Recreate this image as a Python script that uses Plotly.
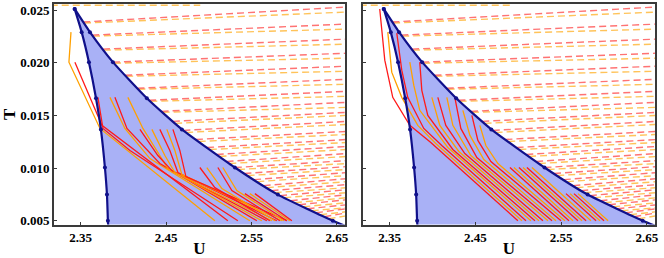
import numpy as np
import plotly.graph_objects as go

# ---------------- data ----------------
# boundary dots (shared by both panels)
T_dots = [0.0251, 0.0229, 0.02005, 0.01662, 0.01367, 0.01005, 0.00748, 0.0050]
U_left_dots = [2.3430, 2.3512, 2.3597, 2.3680, 2.3737, 2.3784, 2.3808, 2.3819]
U_upper_dots = [2.3430, 2.3609, 2.3878, 2.4275, 2.4685, 2.5305, 2.5808, 2.6451]
U_left_tail, T_left_tail = 2.3823, 0.0044
U_upper_tail, T_upper_tail = 2.6700, 0.00418

# dashed lines: start T on the upper boundary, end T at the right edge
red_dash_start_T = [0.02386, 0.02262, 0.02129, 0.02005, 0.01881, 0.01757, 0.01643, 0.01538,
                    0.01443, 0.01357, 0.01271, 0.01195, 0.01129, 0.01062, 0.01005, 0.00948,
                    0.00890, 0.00833, 0.00786, 0.00738, 0.00690, 0.00652, 0.00614, 0.00576,
                    0.00538]
red_dash_end_T = [0.02529, 0.02367, 0.02224, 0.02090, 0.01967, 0.01843, 0.01729, 0.01624,
                  0.01529, 0.01443, 0.01348, 0.01271, 0.01205, 0.01138, 0.01071, 0.01014,
                  0.00957, 0.00900, 0.00843, 0.00795, 0.00748, 0.00700, 0.00652, 0.00614,
                  0.00576]
orange_dash_start_T = [0.02376, 0.02252, 0.02119, 0.01995, 0.01871, 0.01748, 0.01633, 0.01529,
                       0.01424, 0.01338, 0.01252, 0.01176, 0.01110, 0.01043, 0.00986, 0.00929,
                       0.00871, 0.00814, 0.00767, 0.00719, 0.00671, 0.00633, 0.00595, 0.00557,
                       0.00519]
orange_dash_end_T = [0.02481, 0.02319, 0.02176, 0.02043, 0.01919, 0.01795, 0.01681, 0.01576,
                     0.01500, 0.01414, 0.01319, 0.01243, 0.01176, 0.01110, 0.01043, 0.00986,
                     0.00929, 0.00871, 0.00814, 0.00767, 0.00719, 0.00671, 0.00624, 0.00586,
                     0.00548]
U_edge = 2.6620
top_dash_U = [2.3150, 2.4900]
top_dash_T = [0.02545, 0.02545]

# solid trajectories, left panel
left_colors = ["orange", "red", "red", "orange", "red", "orange", "red", "orange", "red",
               "orange", "red", "red", "orange", "red", "orange", "red", "orange", "red"]
left_U = [
    [2.3387, 2.3363, 2.3726, 2.5071],
    [2.3433, 2.3749, 2.5223],
    [2.3702, 2.3761, 2.4077, 2.5340],
    [2.3843, 2.4018, 2.4311, 2.5480],
    [2.3901, 2.4042, 2.4427, 2.5562],
    [2.4053, 2.4229, 2.4521, 2.5620],
    [2.4194, 2.4404, 2.4568, 2.5679],
    [2.4334, 2.4486, 2.4603, 2.5737],
    [2.4427, 2.4544, 2.4638, 2.5796],
    [2.4509, 2.4603, 2.4685, 2.5855],
    [2.4580, 2.4661, 2.4732, 2.5913],
    [2.4895, 2.5071, 2.5714],
    [2.4977, 2.5153, 2.5773],
    [2.5106, 2.5270, 2.5831],
    [2.5164, 2.5328, 2.5878],
    [2.5422, 2.5913],
    [2.5480, 2.5948],
    [2.5539, 2.5972],
]
left_T = [
    [0.02290, 0.02005, 0.01376, 0.005],
    [0.02005, 0.01405, 0.005],
    [0.01671, 0.01376, 0.01167, 0.005],
    [0.01671, 0.01376, 0.01090, 0.005],
    [0.01671, 0.01376, 0.01043, 0.005],
    [0.01671, 0.01376, 0.00995, 0.005],
    [0.01367, 0.01119, 0.00976, 0.005],
    [0.01367, 0.01119, 0.00957, 0.005],
    [0.01367, 0.01167, 0.00957, 0.005],
    [0.01367, 0.01167, 0.00938, 0.005],
    [0.01367, 0.01167, 0.00919, 0.005],
    [0.01005, 0.00814, 0.005],
    [0.01005, 0.00805, 0.005],
    [0.01005, 0.00786, 0.005],
    [0.01005, 0.00786, 0.005],
    [0.00757, 0.005],
    [0.00757, 0.005],
    [0.00757, 0.005],
]

# solid trajectories, right panel
right_colors = ["red", "orange"] * 11
right_U = [
    [2.3383, 2.3442, 2.3535, 2.3734, 2.3979, 2.4995],
    [2.3477, 2.3523, 2.3640, 2.3827, 2.4037, 2.5042],
    [2.3582, 2.3640, 2.3710, 2.3897, 2.4107, 2.5089],
    [2.3734, 2.3780, 2.3850, 2.4178, 2.5147],
    [2.3850, 2.3874, 2.3944, 2.4236, 2.5194],
    [2.3991, 2.4084, 2.4306, 2.5241],
    [2.4061, 2.4154, 2.4376, 2.5287],
    [2.4166, 2.4236, 2.4446, 2.5346],
    [2.4259, 2.4329, 2.4516, 2.5393],
    [2.4353, 2.4435, 2.4598, 2.5439],
    [2.4458, 2.4528, 2.4680, 2.5498],
    [2.4551, 2.4621, 2.4762, 2.5544],
    [2.4902, 2.5591],
    [2.4949, 2.5638],
    [2.5007, 2.5696],
    [2.5054, 2.5743],
    [2.5100, 2.5790],
    [2.5159, 2.5848],
    [2.5556, 2.5907],
    [2.5603, 2.5953],
    [2.5649, 2.6000],
    [2.5696, 2.6047],
]
right_T = [
    [0.02510, 0.02024, 0.01671, 0.01405, 0.01243, 0.005],
    [0.02290, 0.01910, 0.01671, 0.01405, 0.01233, 0.005],
    [0.02281, 0.01929, 0.01671, 0.01376, 0.01214, 0.005],
    [0.02005, 0.01786, 0.01548, 0.01195, 0.005],
    [0.02005, 0.01738, 0.01500, 0.01176, 0.005],
    [0.01671, 0.01405, 0.01157, 0.005],
    [0.01671, 0.01405, 0.01138, 0.005],
    [0.01671, 0.01405, 0.01119, 0.005],
    [0.01671, 0.01376, 0.01100, 0.005],
    [0.01548, 0.01310, 0.01081, 0.005],
    [0.01500, 0.01262, 0.01062, 0.005],
    [0.01405, 0.01214, 0.01043, 0.005],
    [0.01005, 0.005], [0.01005, 0.005], [0.01005, 0.005],
    [0.01005, 0.005], [0.01005, 0.005], [0.01005, 0.005],
    [0.00757, 0.005], [0.00757, 0.005], [0.00757, 0.005], [0.00757, 0.005],
]

x_ticks = [2.35, 2.45, 2.55, 2.65]
x_tick_text = ["2.35", "2.45", "2.55", "2.65"]
y_ticks = [0.005, 0.010, 0.015, 0.020, 0.025]
y_tick_text = ["0.005", "0.010", "0.015", "0.020", "0.025"]

# ---------------- styles ----------------
NAVY = "#10108a"
FILL = "#a9b1f6"
RED_SOLID = "#ff1a1a"
ORANGE_SOLID = "#ffa000"
RED_DASH = "rgba(255,90,90,0.85)"
ORANGE_DASH = "rgba(255,185,60,0.85)"
COLOR = {"red": RED_SOLID, "orange": ORANGE_SOLID}

left_curve_U = U_left_dots + [U_left_tail]
left_curve_T = T_dots + [T_left_tail]
upper_curve_U = U_upper_dots + [U_upper_tail]
upper_curve_T = T_dots + [T_upper_tail]

fig = go.Figure()


def add_panel(xa, ya, paths_U, paths_T, colors):
    # filled region
    poly_U = left_curve_U + upper_curve_U[::-1]
    poly_T = left_curve_T + upper_curve_T[::-1]
    fig.add_trace(go.Scatter(x=poly_U, y=poly_T, mode="lines", fill="toself",
                             fillcolor=FILL, line=dict(width=0, color=FILL),
                             xaxis=xa, yaxis=ya, hoverinfo="skip"))
    # dashed lines
    Tu = np.array(upper_curve_T)[::-1]
    Uu = np.array(upper_curve_U)[::-1]
    for starts, ends, col in ((orange_dash_start_T, orange_dash_end_T, ORANGE_DASH),
                              (red_dash_start_T, red_dash_end_T, RED_DASH)):
        xs, ys = [], []
        for ts, te in zip(starts, ends):
            us = float(np.interp(ts, Tu, Uu))
            xs += [us, U_edge, None]
            ys += [ts, te, None]
        fig.add_trace(go.Scatter(x=xs, y=ys, mode="lines",
                                 line=dict(color=col, width=1.4, dash="7px,4px"),
                                 xaxis=xa, yaxis=ya, hoverinfo="skip"))
    fig.add_trace(go.Scatter(x=top_dash_U, y=top_dash_T, mode="lines",
                             line=dict(color=ORANGE_DASH, width=1.4, dash="7px,4px"),
                             xaxis=xa, yaxis=ya, hoverinfo="skip"))
    # solid trajectories
    for u, t, c in zip(paths_U, paths_T, colors):
        fig.add_trace(go.Scatter(x=u, y=t, mode="lines",
                                 line=dict(color=COLOR[c], width=1.3),
                                 xaxis=xa, yaxis=ya, hoverinfo="skip"))
    # boundary curves
    for cu, ct in ((left_curve_U, left_curve_T), (upper_curve_U, upper_curve_T)):
        fig.add_trace(go.Scatter(x=cu, y=ct, mode="lines",
                                 line=dict(color=NAVY, width=2.2, shape="spline", smoothing=0.5),
                                 xaxis=xa, yaxis=ya, hoverinfo="skip"))
    fig.add_trace(go.Scatter(x=U_left_dots + U_upper_dots, y=T_dots + T_dots, mode="markers",
                             marker=dict(color=NAVY, size=4),
                             xaxis=xa, yaxis=ya, hoverinfo="skip"))


add_panel("x", "y", left_U, left_T, left_colors)
add_panel("x2", "y2", right_U, right_T, right_colors)

tickfont = dict(family="Liberation Serif", size=13, color="black", weight="bold")
titlefont = dict(family="Liberation Serif", size=17, color="black", weight="bold")
axis_common = dict(showline=True, mirror=True, linecolor="#3a3a3a", linewidth=1.6,
                   showgrid=False, zeroline=False, ticks="inside", ticklen=3,
                   tickcolor="#3a3a3a", tickfont=tickfont)
x_range = [2.3188, 2.6594]
y_range = [0.00464, 0.02557]
ydom = [0.1298, 0.9845]

fig.update_layout(
    width=664, height=258, margin=dict(l=0, r=0, t=0, b=0, autoexpand=False),
    plot_bgcolor="white", paper_bgcolor="white", showlegend=False,
    xaxis=dict(domain=[0.0813, 0.5196], range=x_range, tickvals=x_ticks, ticktext=x_tick_text,
               title=dict(text="U", font=titlefont, standoff=2), anchor="y", **axis_common),
    yaxis=dict(domain=ydom, range=y_range, tickvals=y_ticks, ticktext=y_tick_text,
               title=dict(text="T", font=titlefont, standoff=4), anchor="x", **axis_common),
    xaxis2=dict(domain=[0.5467, 0.9864], range=x_range, tickvals=x_ticks, ticktext=x_tick_text,
                title=dict(text="U", font=titlefont, standoff=2), anchor="y2", **axis_common),
    yaxis2=dict(domain=ydom, range=y_range, tickvals=y_ticks, showticklabels=False,
                anchor="x2", **axis_common),
)

fig.write_html("out.html", config={"displayModeBar": False},
               post_script="document.body.style.margin='0px';document.body.style.overflow='hidden';")
